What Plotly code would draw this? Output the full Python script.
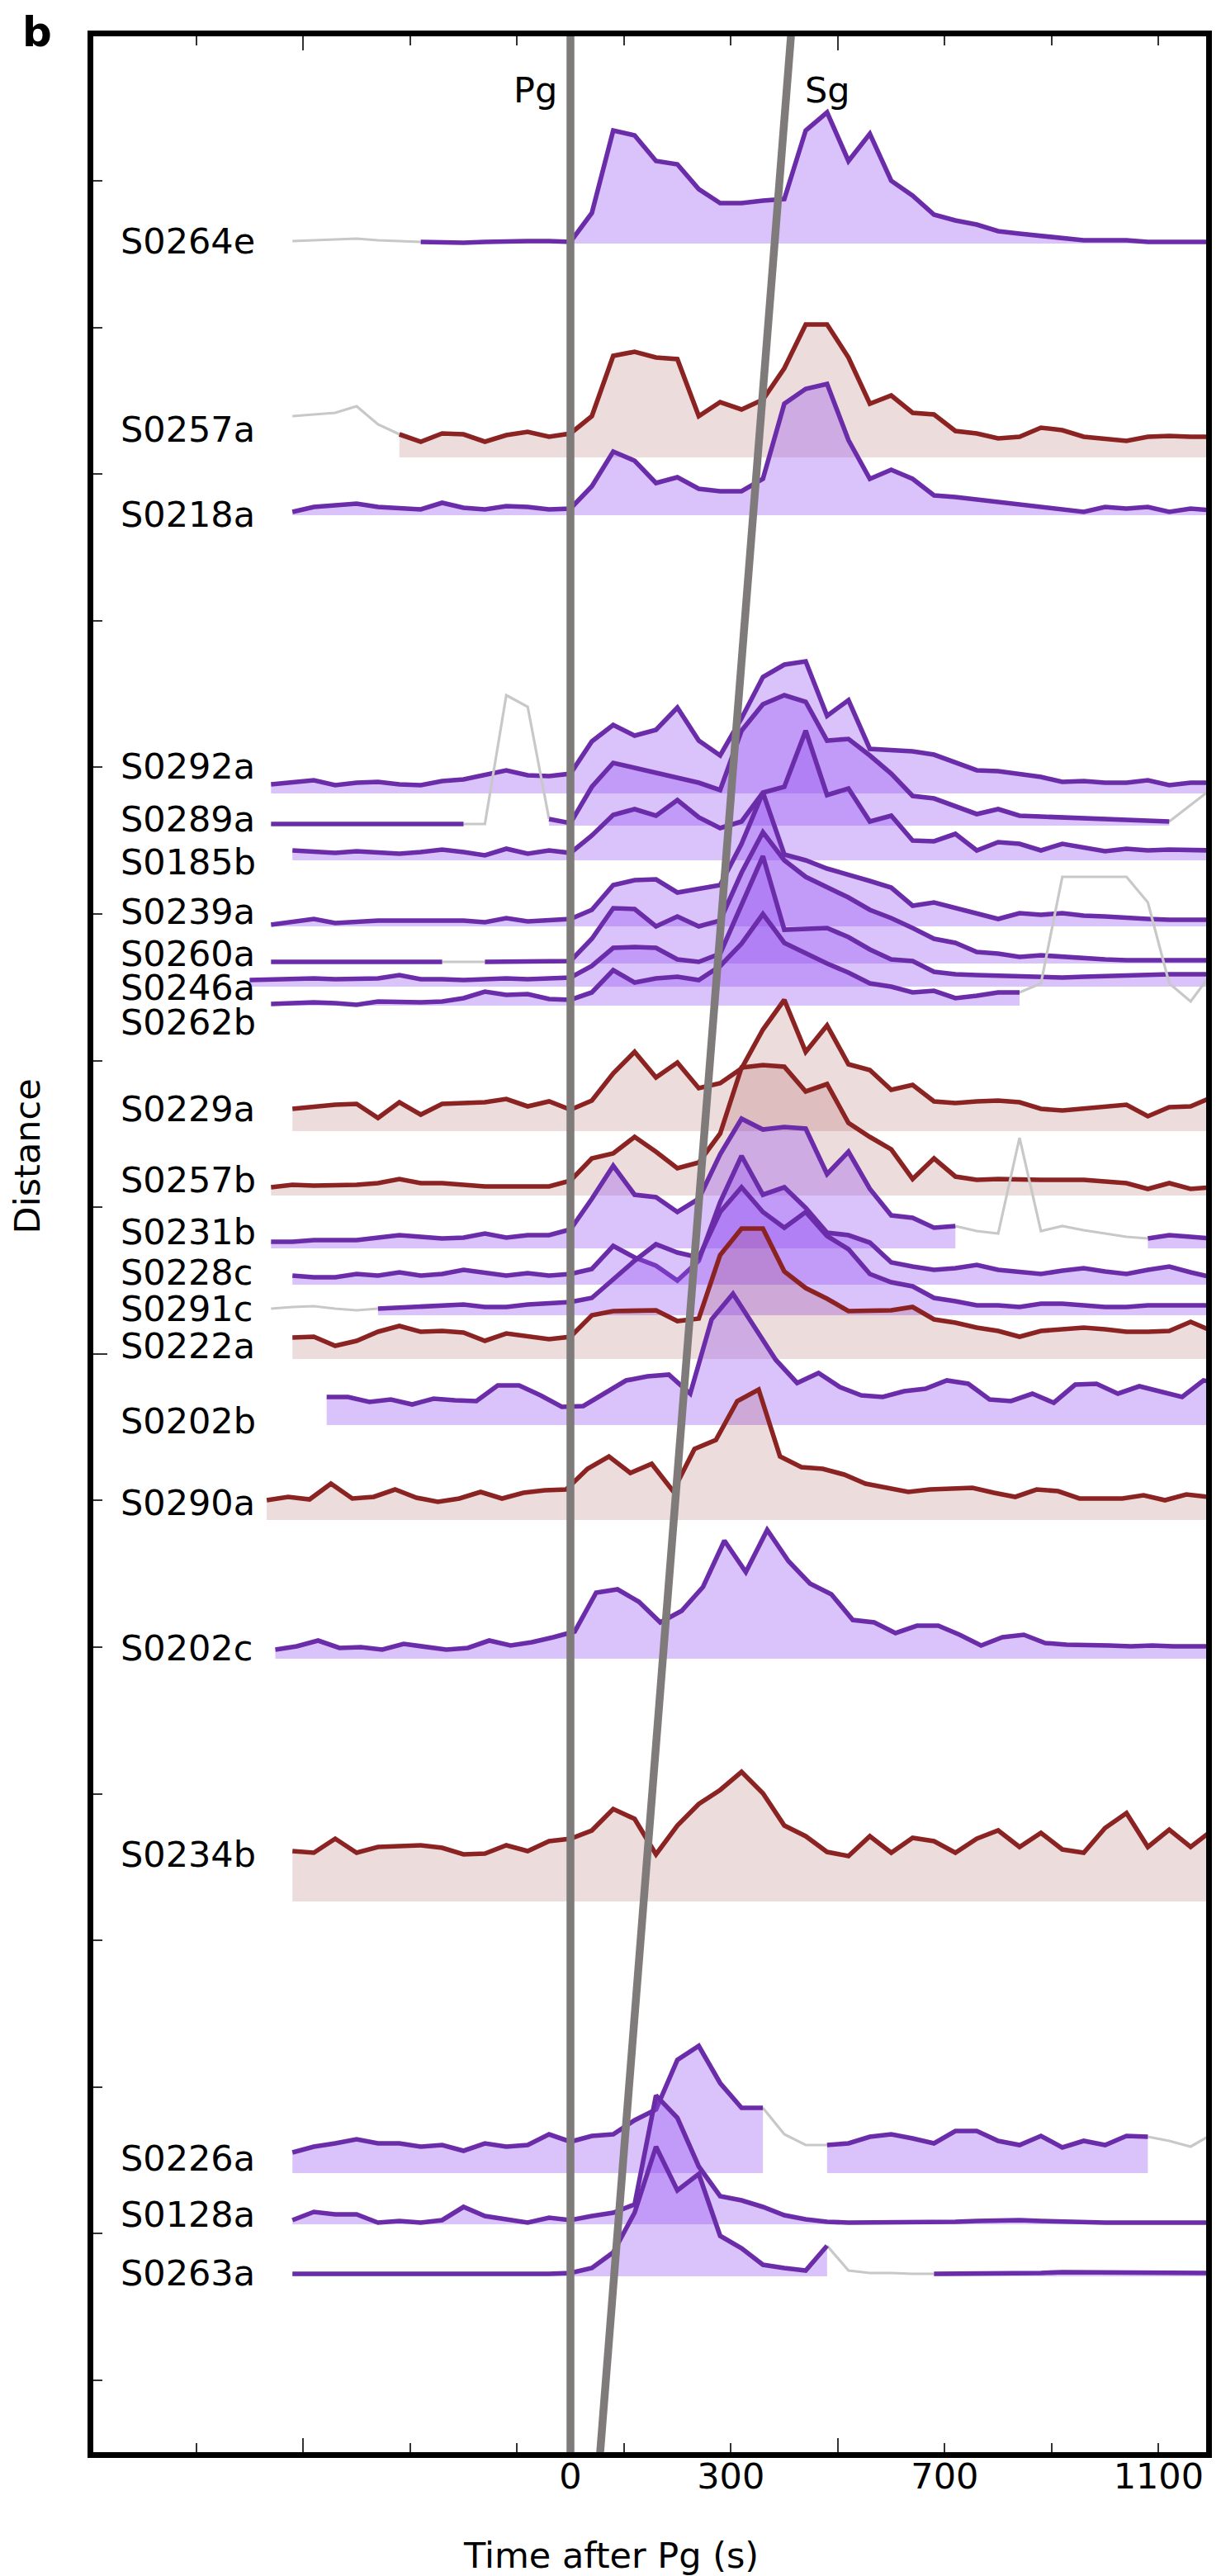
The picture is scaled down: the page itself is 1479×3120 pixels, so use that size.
import plotly.graph_objects as go

# ---------------- data ----------------
STEP = 40  # s between samples of each envelope

stations = ["S0264e", "S0257a", "S0218a", "S0292a", "S0289a", "S0185b", "S0239a",
            "S0260a", "S0246a", "S0262b", "S0229a", "S0257b", "S0231b", "S0228c",
            "S0291c", "S0222a", "S0202b", "S0290a", "S0202c", "S0234b", "S0226a",
            "S0128a", "S0263a"]
kinds = ["P", "R", "P", "P", "P", "P", "P", "P", "P", "P", "R", "R", "P", "P",
         "P", "R", "P", "R", "P", "R", "P", "P", "P"]
base_dist = [2680, 2421, 2351, 2014, 1975, 1933, 1853, 1808, 1780, 1757, 1605, 1527,
             1463, 1419, 1382, 1329, 1249, 1134, 966, 672, 343, 281, 218]
t_first = [-520, -520, -520, -560, -560, -520, -560, -560, -600, -560, -520, -560,
           -560, -520, -560, -520, -456, -568, -552, -520, -520, -520, -520]

amp_S0264e = [3, 4, 5, 6, 4, 3, 2, 1, 1, 2, 3, 3, 3, 2,
              37, 137, 131, 100, 96, 66, 49, 49, 52, 54, 137, 159, 100, 133, 76, 58,
              35, 28, 23, 15, 12, 9, 6, 4, 4, 4, 2, 2, 2, 2]
amp_S0257a = [50, 52, 54, 62, 40, 28, 19, 29, 28, 19, 27, 31, 25, 29,
              50, 123, 128, 121, 119, 50, 67, 58, 70, 108, 161, 161, 121, 65, 75, 54,
              52, 32, 29, 23, 25, 36, 33, 25, 22, 20, 25, 26, 25, 25]
amp_S0218a = [4, 10, 12, 14, 10, 8, 7, 15, 9, 7, 11, 10, 7, 8,
              35, 77, 66, 39, 46, 32, 29, 29, 44, 135, 153, 159, 91, 44, 55, 44,
              24, 22, 19, 15, 13, 9, 7, 4, 10, 8, 10, 4, 8, 6]
amp_S0292a = [11, 13, 16, 10, 13, 14, 11, 10, 15, 17, 22, 28, 22, 21, 24,
              63, 83, 70, 77, 104, 64, 46, 91, 141, 156, 160, 94, 113, 54, 53,
              51, 47, 38, 28, 27, 23, 20, 14, 15, 13, 13, 16, 10, 13, 13]
amp_S0289a = [2, 2, 2, 1, 1, 1, 1, 1, 1, 2, 2, 158, 144, 8, 3,
              47, 76, 70, 64, 58, 52, 43, 115, 147, 158, 150, 103, 105, 85, 63,
              36, 33, 23, 14, 20, 12, 11, 10, 8, 7, 6, 5, 5, 25, 45]
amp_S0185b = [12, 11, 9, 11, 10, 8, 10, 13, 10, 6, 14, 8, 12, 9,
              30, 55, 62, 54, 73, 52, 39, 47, 82, 89, 157, 79, 87, 47, 54, 24,
              23, 32, 12, 22, 20, 12, 20, 15, 11, 14, 12, 13, 12, 12]
amp_S0239a = [2, 6, 9, 4, 6, 7, 7, 7, 8, 7, 5, 10, 6, 8, 9,
              20, 50, 56, 57, 41, 45, 50, 100, 162, 87, 80, 70, 63, 55, 47,
              25, 29, 22, 15, 9, 16, 14, 16, 13, 12, 10, 9, 8, 8, 8]
amp_S0260a = [2, 2, 3, 3, 3, 2, 2, 2, 2, 2, 2, 2, 2, 2, 3,
              30, 67, 66, 45, 57, 45, 52, 110, 159, 125, 105, 92, 80, 65, 55,
              43, 30, 25, 14, 12, 8, 10, 8, 6, 5, 4, 4, 4, 4, 4]
amp_S0246a = [8, 9, 10, 10, 9, 9, 10, 14, 9, 9, 8, 9, 10, 9, 10, 11,
              25, 47, 48, 47, 33, 30, 40, 100, 158, 69, 70, 71, 60, 45,
              33, 31, 18, 15, 14, 13, 12, 11, 11, 12, 13, 14, 14, 15, 15, 15]
amp_S0262b = [2, 3, 4, 3, 1, 5, 4, 4, 5, 9, 17, 13, 14, 8, 7,
              16, 43, 28, 33, 35, 31, 48, 75, 111, 76, 63, 51, 40, 27, 23,
              16, 18, 9, 12, 16, 16, 27, 156, 156, 156, 156, 125, 27, 5, 40]
amp_S0229a = [27, 30, 32, 33, 16, 35, 20, 33, 34, 35, 39, 30, 36, 26,
              37, 70, 96, 65, 83, 52, 58, 76, 123, 159, 96, 128, 81, 74, 50, 56,
              36, 34, 36, 37, 35, 27, 25, 27, 30, 32, 18, 29, 30, 41]
amp_S0257b = [10, 13, 12, 12, 13, 15, 20, 15, 15, 13, 11, 11, 11, 11, 18,
              45, 51, 71, 53, 33, 40, 75, 155, 158, 156, 126, 135, 88, 71, 56,
              20, 45, 23, 19, 20, 19, 19, 19, 19, 17, 15, 8, 15, 8, 10]
amp_S0231b = [8, 8, 10, 10, 10, 13, 16, 14, 12, 13, 18, 13, 16, 16, 23,
              60, 100, 65, 62, 44, 60, 114, 157, 144, 147, 145, 90, 117, 72, 40,
              37, 25, 27, 21, 18, 134, 21, 27, 22, 18, 14, 12, 16, 14, 12]
amp_S0228c = [11, 9, 9, 13, 11, 15, 11, 13, 18, 14, 11, 14, 11, 13,
              19, 47, 33, 23, 5, 29, 100, 156, 109, 118, 93, 63, 60, 51, 27, 22,
              18, 20, 24, 18, 15, 13, 17, 20, 16, 13, 18, 22, 15, 9]
amp_S0291c = [8, 10, 11, 8, 6, 8, 9, 10, 11, 13, 10, 10, 13, 14, 16,
              21, 43, 66, 86, 76, 70, 125, 155, 125, 106, 125, 96, 80, 50, 40,
              35, 21, 17, 12, 12, 10, 14, 14, 12, 10, 10, 12, 12, 12, 12]
amp_S0222a = [26, 27, 16, 22, 33, 40, 33, 34, 32, 22, 31, 28, 24, 27,
              53, 58, 58, 59, 46, 49, 126, 158, 158, 106, 86, 73, 58, 58, 59, 63,
              48, 44, 38, 34, 27, 34, 36, 38, 36, 33, 33, 34, 45, 34]
amp_S0202b = [34, 34, 28, 31, 25, 32, 30, 29, 48, 48, 36, 22,
              23, 39, 54, 59, 61, 38, 128, 159, 119, 79, 51, 63, 46, 36, 34, 41,
              44, 54, 50, 31, 29, 38, 27, 49, 50, 38, 47, 40, 34, 54, 50]
amp_S0290a = [24, 28, 25, 44, 26, 28, 37, 27, 22, 26, 34, 26, 33, 36, 37,
              62, 77, 57, 68, 35, 86, 97, 144, 158, 77, 64, 62, 55, 44, 39,
              34, 37, 38, 39, 33, 28, 37, 35, 26, 26, 26, 30, 24, 31, 28, 28]
amp_S0202c = [11, 15, 22, 13, 14, 11, 18, 15, 11, 13, 22, 16, 20, 26,
              33, 80, 84, 69, 44, 58, 87, 143, 105, 156, 118, 91, 78, 47, 44, 31,
              40, 40, 29, 16, 26, 29, 19, 17, 17, 16, 15, 16, 15, 15, 15]
amp_S0234b = [61, 59, 76, 59, 66, 67, 68, 65, 57, 58, 68, 61, 73, 76,
              86, 112, 100, 57, 92, 118, 135, 157, 131, 92, 79, 60, 55, 79, 59, 77,
              73, 59, 76, 86, 66, 83, 63, 59, 89, 107, 66, 87, 66, 86]
amp_S0226a = [25, 32, 36, 41, 36, 36, 32, 34, 27, 36, 32, 34, 47, 38,
              45, 47, 64, 77, 137, 154, 109, 79, 79, 47, 34, 34, 36, 44, 47, 42,
              36, 51, 51, 39, 34, 45, 31, 39, 34, 45, 44, 39, 32, 47]
amp_S0128a = [5, 15, 12, 12, 2, 4, 2, 5, 21, 10, 6, 2, 8, 5,
              10, 14, 24, 156, 129, 70, 34, 29, 21, 11, 6, 3, 2, 2, 2, 2,
              2, 3, 4, 5, 5, 4, 3, 2, 2, 2, 2, 2, 2, 2]
amp_S0263a = [3, 3, 3, 3, 3, 2, 3, 3, 3, 3, 3, 3, 3, 4,
              10, 29, 77, 157, 104, 124, 49, 34, 14, 10, 7, 37, 7, 4, 4, 3,
              3, 3, 3, 3, 4, 4, 5, 5, 5, 4, 4, 4, 5, 4]

# time spans (s) where the envelope is masked (drawn grey, unfilled)
grey_spans = {
    "S0264e": [(-520, -280)],
    "S0257a": [(-520, -320)],
    "S0289a": [(-200, -40), (1120, 1200)],
    "S0260a": [(-240, -160)],
    "S0262b": [(840, 1200)],
    "S0231b": [(720, 1080)],
    "S0291c": [(-560, -360)],
    "S0226a": [(360, 480), (1080, 1200)],
    "S0263a": [(480, 680)],
}

# phase arrival lines (time after Pg, distance)
pg_time = [0, 0]
pg_dist = [0, 2940]
sg_time = [55, 413]
sg_dist = [0, 2936]

x_tick_labels = [0, 300, 700, 1100]

amps = {
    "S0264e": amp_S0264e, "S0257a": amp_S0257a, "S0218a": amp_S0218a,
    "S0292a": amp_S0292a, "S0289a": amp_S0289a, "S0185b": amp_S0185b,
    "S0239a": amp_S0239a, "S0260a": amp_S0260a, "S0246a": amp_S0246a,
    "S0262b": amp_S0262b, "S0229a": amp_S0229a, "S0257b": amp_S0257b,
    "S0231b": amp_S0231b, "S0228c": amp_S0228c, "S0291c": amp_S0291c,
    "S0222a": amp_S0222a, "S0202b": amp_S0202b, "S0290a": amp_S0290a,
    "S0202c": amp_S0202c, "S0234b": amp_S0234b, "S0226a": amp_S0226a,
    "S0128a": amp_S0128a, "S0263a": amp_S0263a,
}

# ---------------- layout / style ----------------
W, H = 1479, 3120
L, R, T, B = 113, 1468, 44, 2970
X_RANGE = [-892.5, 1189]
Y_RANGE = [5, 2931]
FONT = "DejaVu Sans"

PURPLE = "#6a2ca8"
PURPLE_FILL = "rgba(150,80,240,0.35)"
RED = "#8b2323"
RED_FILL = "rgba(140,40,40,0.16)"
GREY = "#c8c8c8"
PHASE = "#7f7b7b"

# label heights (distance units) for the station names
label_dist = [2683, 2455, 2352, 2047, 1983, 1931, 1871, 1820, 1779, 1737, 1632,
              1546, 1483, 1434, 1390, 1345, 1254, 1155, 979, 729, 361, 293, 222]
LABEL_T = -845

y_minor_ticks = [92, 269.6, 447.2, 624.8, 802.4, 980, 1157.6, 1335.2, 1512.8,
                 1690.4, 1868, 2045.6, 2223.2, 2400.8, 2578.4, 2756]
y_major_ticks = [1335.2]
x_minor_ticks = [-700, -300, -100, 100, 300, 700, 900, 1100]
x_major_ticks = [-500, 500]


def px_x(px):
    return (px - L) / (R - L)


def px_y(py):
    return (B - py) / (B - T)


fig = go.Figure()

for idx, name in enumerate(stations):
    vals = amps[name]
    base = base_dist[idx]
    t0 = t_first[idx]
    ts = [t0 + STEP * i for i in range(len(vals))]
    ys = [base + v for v in vals]
    spans = grey_spans.get(name, [])
    runs = []
    for i in range(len(ts) - 1):
        g = any(s0 <= ts[i] and ts[i + 1] <= s1 for s0, s1 in spans)
        if runs and runs[-1][0] == g:
            runs[-1][2] = i + 1
        else:
            runs.append([g, i, i + 1])
    lc = PURPLE if kinds[idx] == "P" else RED
    fc = PURPLE_FILL if kinds[idx] == "P" else RED_FILL
    for g, a, b in runs:
        if g:
            continue
        xs = ts[a:b + 1]
        yy = ys[a:b + 1]
        fig.add_trace(go.Scatter(
            x=xs + xs[::-1], y=yy + [base] * len(xs), fill="toself",
            fillcolor=fc, line=dict(width=0), mode="lines",
            hoverinfo="skip", showlegend=False))
    for g, a, b in runs:
        if not g:
            continue
        fig.add_trace(go.Scatter(
            x=ts[a:b + 1], y=ys[a:b + 1], mode="lines",
            line=dict(color=GREY, width=3.2), hoverinfo="skip", showlegend=False))
    for g, a, b in runs:
        if g:
            continue
        fig.add_trace(go.Scatter(
            x=ts[a:b + 1], y=ys[a:b + 1], mode="lines",
            line=dict(color=lc, width=5.6), hoverinfo="skip", showlegend=False))

# phase lines on top
fig.add_trace(go.Scatter(x=pg_time, y=pg_dist, mode="lines",
                         line=dict(color=PHASE, width=9.5), hoverinfo="skip", showlegend=False))
fig.add_trace(go.Scatter(x=sg_time, y=sg_dist, mode="lines",
                         line=dict(color=PHASE, width=9.5), hoverinfo="skip", showlegend=False))
# helper (invisible) trace for the tick-label axis
fig.add_trace(go.Scatter(x=[x_tick_labels[0]], y=[base_dist[0]], xaxis="x2", mode="lines",
                         line=dict(width=0), hoverinfo="skip", showlegend=False))

annotations = []
for idx, name in enumerate(stations):
    annotations.append(dict(x=LABEL_T, y=label_dist[idx], xref="x", yref="y", text=name,
                            showarrow=False, xanchor="left", yanchor="middle",
                            font=dict(family=FONT, size=43, color="black")))
annotations.append(dict(x=0, y=2866, xref="x", yref="y", text="Pg", showarrow=False,
                        xanchor="right", yanchor="middle", xshift=-14,
                        font=dict(family=FONT, size=43, color="black")))
annotations.append(dict(x=436, y=2866, xref="x", yref="y", text="Sg", showarrow=False,
                        xanchor="left", yanchor="middle",
                        font=dict(family=FONT, size=43, color="black")))
annotations.append(dict(x=px_x(45), y=px_y(39), xref="paper", yref="paper", text="<b>b</b>",
                        showarrow=False, xanchor="center", yanchor="middle",
                        font=dict(family=FONT, size=50, color="black")))
annotations.append(dict(x=px_x(743), y=px_y(3095), xref="paper", yref="paper",
                        text="Time after Pg (s)", showarrow=False, xanchor="center",
                        yanchor="middle", font=dict(family=FONT, size=43, color="black")))
annotations.append(dict(x=px_x(33), y=px_y(1400), xref="paper", yref="paper",
                        text="Distance", textangle=-90, showarrow=False, xanchor="center",
                        yanchor="middle", font=dict(family=FONT, size=43, color="black")))

fig.update_layout(
    width=W, height=H,
    margin=dict(l=L, r=W - R, t=T, b=H - B, pad=0),
    paper_bgcolor="white", plot_bgcolor="white",
    showlegend=False,
    font=dict(family=FONT, size=43, color="black"),
    xaxis=dict(range=X_RANGE, showgrid=False, zeroline=False, showline=True,
               linecolor="black", linewidth=7, mirror="ticks", ticks="inside",
               tickmode="array", tickvals=x_major_ticks, ticklen=17, tickwidth=1.5,
               tickcolor="#333", showticklabels=False,
               minor=dict(tickmode="array", tickvals=x_minor_ticks, ticks="inside",
                          ticklen=11, tickwidth=1.5, tickcolor="#333", showgrid=False)),
    xaxis2=dict(range=X_RANGE, overlaying="x", anchor="y", side="bottom",
                showgrid=False, zeroline=False, showline=False, ticks="",
                tickmode="array", tickvals=x_tick_labels,
                ticktext=[str(v) for v in x_tick_labels],
                tickfont=dict(family=FONT, size=43, color="black")),
    yaxis=dict(range=Y_RANGE, showgrid=False, zeroline=False, showline=True,
               linecolor="black", linewidth=7, mirror=True, ticks="inside",
               tickmode="array", tickvals=y_major_ticks, ticklen=17, tickwidth=1.5,
               tickcolor="#333", showticklabels=False,
               minor=dict(tickmode="array", tickvals=y_minor_ticks, ticks="inside",
                          ticklen=11, tickwidth=1.5, tickcolor="#333", showgrid=False)),
    annotations=annotations,
)

fig.write_html("out.html")
